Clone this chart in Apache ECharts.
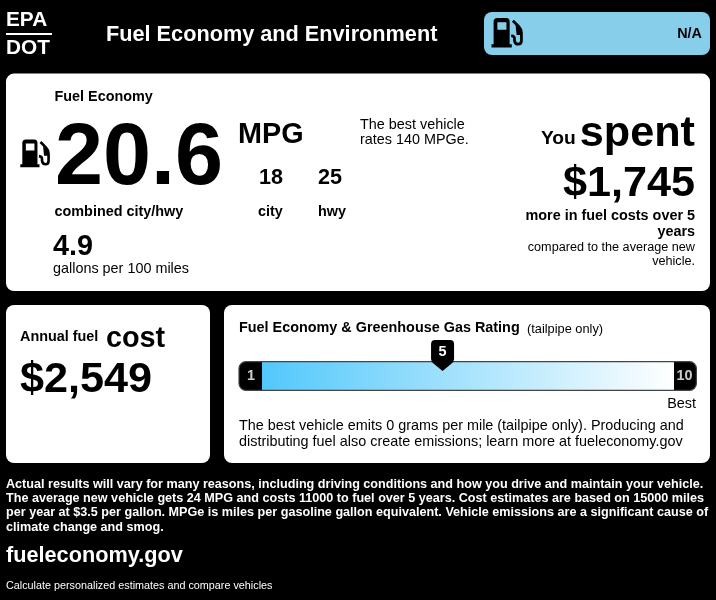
<!DOCTYPE html>
<html>
<head>
<meta charset="utf-8">
<style>html,body{margin:0;padding:0;background:#000}#c{width:716px;height:600px}</style>
<script src="https://cdn.jsdelivr.net/npm/echarts@6/dist/echarts.min.js"></script>
</head>
<body>
<div id="c"></div>
<script>
var combinedMpg = "20.6";
var cityMpg = "18";
var hwyMpg = "25";
var gallonsPer100 = "4.9";
var spentCost = "$1,745";
var annualCost = "$2,549";
var rangeText = "N/A";
var ratingCategories = ["rating"];
var ratingMax = [10];
var ratingEnds = [1, 10];
var ratingValue = [5];
var footnoteLines = [
  "Actual results will vary for many reasons, including driving conditions and how you drive and maintain your vehicle.",
  "The average new vehicle gets 24 MPG and costs 11000 to fuel over 5 years. Cost estimates are based on 15000 miles",
  "per year at $3.5 per gallon. MPGe is miles per gasoline gallon equivalent. Vehicle emissions are a significant cause of",
  "climate change and smog."
];

var FONT = '"Liberation Sans", Arial, sans-serif';
var PUMP_BODY = 'M1.5 3.5Q1.5 0 5 0H13.5Q16.5 0 16.5 3.5V24.5H18.5V27.5H-.5V24.5H1.5ZM5 4V11H13.5V4ZM22 6L27 10V16H23Z';
var PUMP_HOSE = 'M19.5 2.5L25 8Q27.5 10.5 27.5 14V21Q27.5 24.5 24.5 24.5Q21.5 24.5 21 21V19Q21 17 18 16.5';
echarts.graphic.registerShape('pumpBody', echarts.graphic.extendPath(PUMP_BODY));
echarts.graphic.registerShape('pumpHose', echarts.graphic.extendPath(PUMP_HOSE));

function t(x, base, text, size, weight, color, align) {
  return {
    type: 'text', x: x, y: base - 0.31 * size + 0.5, silent: true,
    style: { text: text, fill: color || '#000', align: align || 'left', verticalAlign: 'middle',
             font: (weight || 'normal') + ' ' + size + 'px ' + FONT }
  };
}
function panel(x, y, w, h, fill) {
  return { type: 'rect', x: x, y: y, silent: true, shape: { x: 0, y: 0, width: w, height: h, r: 8 }, style: { fill: fill || '#fff' } };
}
function pump(x, y, s) {
  return { type: 'group', x: x, y: y, scaleX: s, scaleY: s, silent: true, children: [
    { type: 'pumpBody', style: { fill: '#000' } },
    { type: 'pumpHose', style: { fill: 'none', stroke: '#000', lineWidth: 2.6 } }
  ] };
}

var W = '#fff';
var elements = [
  panel(484, 12, 226, 43, '#87ceeb'),
  panel(6, 73.6, 704, 217.4),
  panel(6, 305, 204, 158),
  panel(224, 305, 486, 158),
  t(6, 26.7, 'EPA', 20.8, 'bold', W),
  { type: 'rect', silent: true, shape: { x: 6, y: 33, width: 46, height: 2 }, style: { fill: W } },
  t(6, 54, 'DOT', 20.8, 'bold', W),
  t(106, 41.7, 'Fuel Economy and Environment', 21.7, 'bold', W),
  t(702, 38, rangeText, 14.4, 'bold', '#000', 'right'),
  pump(492, 18, 1.07),
  pump(20.8, 139.5, 1.01),
  t(54.5, 101.3, 'Fuel Economy', 14.4, 'bold'),
  t(55, 186.3, combinedMpg, 86.4, 'bold'),
  t(238, 143.5, 'MPG', 28.8, 'bold'),
  t(271, 184.5, cityMpg, 21.6, 'bold', '#000', 'center'),
  t(330, 184.5, hwyMpg, 21.6, 'bold', '#000', 'center'),
  t(54.5, 216, 'combined city/hwy', 14.4, 'bold'),
  t(258, 216, 'city', 14.4, 'bold'),
  t(318, 216, 'hwy', 14.4, 'bold'),
  t(53, 255.5, gallonsPer100, 28.8, 'bold'),
  t(53, 273, 'gallons per 100 miles', 14.4),
  t(360, 129, 'The best vehicle', 14.4),
  t(360, 144, 'rates 140 MPGe.', 14.4),
  t(541, 144, 'You', 19.2, 'bold'),
  t(695, 147, 'spent', 43.2, 'bold', '#000', 'right'),
  t(695, 197, spentCost, 43.2, 'bold', '#000', 'right'),
  t(695, 220, 'more in fuel costs over 5', 14.4, 'bold', '#000', 'right'),
  t(695, 236, 'years', 14.4, 'bold', '#000', 'right'),
  t(695, 251, 'compared to the average new', 12.65, 'normal', '#000', 'right'),
  t(695, 265, 'vehicle.', 12.65, 'normal', '#000', 'right'),
  t(20, 341, 'Annual fuel', 14.4, 'bold'),
  t(106, 347, 'cost', 28.8, 'bold'),
  t(20, 393, annualCost, 43.2, 'bold'),
  t(239, 332, 'Fuel Economy & Greenhouse Gas Rating', 14.4, 'bold'),
  t(527, 333, '(tailpipe only)', 12.8),
  t(696, 408, 'Best', 14.4, 'normal', '#000', 'right'),
  t(239, 430, 'The best vehicle emits 0 grams per mile (tailpipe only). Producing and', 14.4),
  t(239, 446, 'distributing fuel also create emissions; learn more at fueleconomy.gov', 14.4),
  t(6, 562.5, 'fueleconomy.gov', 21.7, 'bold', W),
  t(6, 589, 'Calculate personalized estimates and compare vehicles', 10.8, 'normal', W)
];
footnoteLines.forEach(function (line, i) {
  elements.push(t(6, 488 + i * 14.2, line, 12.62, 'bold', W));
});

var chart = echarts.init(document.getElementById('c'), null, { renderer: 'canvas' });
chart.setOption({
  backgroundColor: '#000',
  animation: false,
  graphic: { elements: elements },
  grid: { left: 239, top: 361, width: 458, height: 30, containLabel: false },
  xAxis: { type: 'value', min: ratingEnds[0], max: ratingEnds[1], show: false },
  yAxis: { type: 'category', data: ratingCategories, show: false },
  series: [
    {
      type: 'bar', data: ratingMax, barWidth: '100%', silent: true, z: 2,
      itemStyle: {
        borderColor: '#444', borderWidth: 1.2, borderRadius: 7,
        color: { type: 'linear', x: 0, y: 0, x2: 1, y2: 0, colorStops: [
          { offset: 0, color: '#000' }, { offset: 0.0505, color: '#000' },
          { offset: 0.0505, color: '#52c8fb' }, { offset: 0.95, color: '#fff' },
          { offset: 0.95, color: '#000' }, { offset: 1, color: '#000' }
        ] }
      }
    },
    {
      type: 'scatter', silent: true, z: 3, clip: false, symbolSize: 1,
      itemStyle: { color: 'transparent' },
      data: ratingEnds.map(function (v) {
        return { value: [v, ratingCategories[0]], label: { offset: [v === ratingEnds[0] ? 12 : -12.5, 0] } };
      }),
      label: { show: true, position: 'inside', color: '#fff', fontFamily: FONT, fontWeight: 'bold', fontSize: 14.4,
               formatter: function (p) { return p.value[0]; } }
    },
    {
      type: 'scatter', silent: true, z: 4, clip: false,
      symbol: 'path://M4 0H19Q23 0 23 4V19Q23 22 20 24L11.5 31L3 24Q0 22 0 19V4Q0 0 4 0Z',
      symbolSize: [23, 31], symbolOffset: [0, -20.5],
      itemStyle: { color: '#000', opacity: 1 },
      data: ratingValue.map(function (v) { return [v, ratingCategories[0]]; }),
      label: { show: true, position: 'inside', offset: [0, -3], color: '#fff', fontFamily: FONT, fontWeight: 'bold', fontSize: 14.4,
               formatter: function (p) { return p.value[0]; } }
    }
  ]
});
</script>
</body>
</html>
